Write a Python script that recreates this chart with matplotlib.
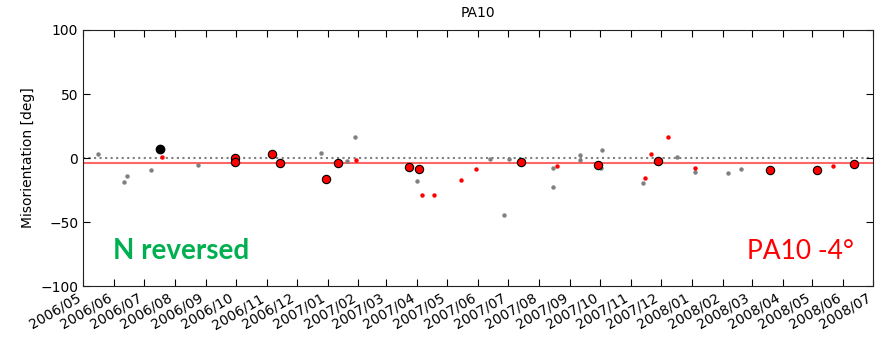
import matplotlib
matplotlib.use("Agg")
import matplotlib.pyplot as plt
import matplotlib.dates as mdates
import pandas as pd

# individual measurements (grey), red small = single corrected, red big = averaged
grey_dates = ["2006-05-16", "2006-06-11", "2006-06-14", "2006-07-08", "2006-08-24",
              "2006-12-25", "2007-01-21", "2007-01-29", "2007-04-01", "2007-06-13",
              "2007-06-27", "2007-07-02", "2007-08-15", "2007-08-15", "2007-09-11",
              "2007-09-11", "2007-10-02", "2007-10-03", "2007-11-13", "2007-12-17",
              "2008-01-04", "2008-02-06", "2008-02-19"]
grey_vals = [3.5, -18.6, -14.4, -9.0, -5.6,
             4.3, -2.0, 16.5, -18.1, -0.7,
             -44.1, -0.7, -22.7, -7.7, 2.7,
             -1.4, -7.7, 6.4, -19.4, 0.6,
             -11.0, -11.8, -8.2]

small_dates = ["2006-07-19", "2007-01-30", "2007-04-06", "2007-04-18", "2007-05-15",
               "2007-05-30", "2007-08-19", "2007-11-15", "2007-11-21", "2007-12-08",
               "2008-01-04", "2008-05-22"]
small_vals = [0.6, -1.2, -28.5, -28.5, -17.3,
              -8.2, -6.1, -15.7, 3.5, 16.5,
              -7.9, -6.1]

big_dates = ["2006-09-30", "2006-09-30", "2006-11-06", "2006-11-14", "2006-12-30",
             "2007-01-12", "2007-03-24", "2007-04-03", "2007-07-14", "2007-09-29",
             "2007-11-28", "2008-03-19", "2008-05-06", "2008-06-12"]
big_vals = [0.4, -2.7, 3.5, -4.0, -16.3,
            -4.0, -6.6, -8.2, -2.7, -5.6,
            -2.0, -9.0, -9.7, -4.3]

black_dates = ["2006-07-17"]
black_vals = [7.2]

offset = -4

fig = plt.figure(figsize=(8.89, 3.37), dpi=100)
ax = fig.add_axes([0.0934, 0.151, 0.889, 0.76])

ax.axhline(0, color="gray", ls=":", lw=1.5, zorder=1)
ax.axhline(offset, color="red", lw=1.5, alpha=0.6, zorder=1)

ax.plot(pd.to_datetime(grey_dates), grey_vals, "o", color="gray", ms=3.2, mec="none", zorder=2)
ax.plot(pd.to_datetime(small_dates), small_vals, "o", color="red", ms=3.2, mec="none", zorder=3)
ax.plot(pd.to_datetime(big_dates), big_vals, "o", color="red", ms=6, mec="black", mew=0.8, zorder=4)
ax.plot(pd.to_datetime(black_dates), black_vals, "o", color="black", ms=6, mec="black", zorder=4)

ax.set_xlim(pd.Timestamp("2006-05-01"), pd.Timestamp("2008-07-01"))
ax.set_ylim(-100, 100)
ax.set_yticks([-100, -50, 0, 50, 100])
ax.set_yticklabels(["\u2212100", "\u221250", "0", "50", "100"])
ax.xaxis.set_major_locator(mdates.MonthLocator())
ax.xaxis.set_major_formatter(mdates.DateFormatter("%Y/%m"))
plt.setp(ax.get_xticklabels(), rotation=30, ha="right")

ax.tick_params(direction="in", top=True, right=True, length=5, labelsize=10)
for s in ax.spines.values():
    s.set_color("#222222")

ax.set_title("PA10", fontsize=10, pad=9)
ax.set_ylabel("Misorientation [deg]", fontsize=10)

ax.text(0.0376, 0.104, "N reversed", transform=ax.transAxes, color="#00B050",
        fontsize=20, fontweight="bold", family="Lato", va="baseline", ha="left")
ax.text(0.975, 0.104, "PA10 %d\u00b0" % offset, transform=ax.transAxes, color="red",
        fontsize=19, family="Lato", va="baseline", ha="right")

fig.savefig("out.png", dpi=100)
